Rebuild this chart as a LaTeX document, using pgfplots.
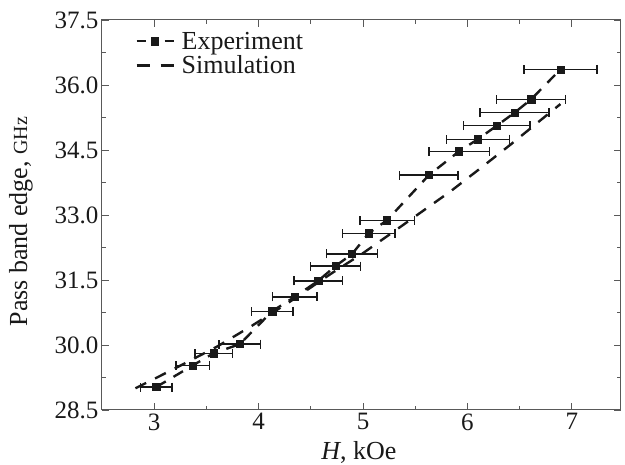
\documentclass[border=0pt]{standalone}
\usepackage{fontspec}
\setmainfont{Liberation Serif}
\usepackage{pgfplots}
\pgfplotsset{compat=1.18}
\pgfplotstableread{
x      y      e
3.02   29.03  0.15
3.37   29.53  0.16
3.57   29.81  0.18
3.82   30.02  0.20
4.13   30.78  0.20
4.345  31.11  0.215
4.57   31.48  0.23
4.735  31.82  0.24
4.895  32.10  0.245
5.055  32.58  0.25
5.23   32.88  0.26
5.63   33.92  0.28
5.92   34.47  0.29
6.10   34.75  0.30
6.28   35.06  0.32
6.45   35.36  0.33
6.61   35.67  0.33
6.89   36.36  0.35
}\expdata
\begin{document}
\begin{tikzpicture}
\begin{axis}[
  scale only axis, width=519pt, height=390pt,
  xmin=2.5, xmax=7.47, ymin=28.5, ymax=37.5,
  xtick={3,4,5,6,7}, ytick={28.5,30,31.5,33,34.5,36,37.5},
  minor x tick num=1, minor y tick num=1,
  tick align=inside, major tick length=7pt, minor tick length=4pt,
  axis line style={draw=black!65, line width=1pt},
  every tick/.style={black!65, line width=0.9pt},
  /pgf/number format/assume math mode=true,
  yticklabel style={/pgf/number format/.cd, fixed, fixed zerofill, precision=1},
  ticklabel style={font=\fontsize{25}{25}\selectfont, text=black!90},
  xlabel={\textit{H}, kOe},
  ylabel={Pass band edge, {\fontsize{20}{20}\selectfont GHz}},
  label style={font=\fontsize{26}{26}\selectfont, text=black!90},
  xlabel style={at={(axis description cs:0.495,-0.108)}, anchor=center},
  ylabel style={at={(axis description cs:-0.156,0.483)}, anchor=center},
  legend style={draw=none, fill=none, font=\fontsize{26}{26}\selectfont,
    at={(axis description cs:0.06,0.975)}, anchor=north west,
    inner xsep=2pt, inner ysep=0pt, row sep=1pt, column sep=5pt,
    cells={anchor=west}, text=black!90},
  legend image code/.code={\draw[mark repeat=2,mark phase=2] plot coordinates {(0cm,0cm) (0.65cm,0cm) (1.3cm,0cm)};},
]
\addplot[black!90, line width=2.4pt, dash pattern=on 11pt off 9pt,
  mark=square*, mark size=3.6pt, mark options={solid, line width=0.5pt},
  legend image post style={dash pattern=on 9pt off 19pt},
  error bars/.cd, x dir=both, x explicit, error mark=|,
  error bar style={solid, line width=1.3pt},
  error mark options={solid, line width=1.3pt, mark size=4.5pt}]
  table[x=x, y=y, x error=e] {\expdata};
\addlegendentry{Experiment}
\addplot[black!90, line width=2.4pt, dash pattern=on 12pt off 10pt,
  legend image post style={dash pattern=on 13pt off 11pt}] coordinates {
(2.82,29.0) (3.2,29.46) (3.6,29.96) (3.92,30.42) (4.3,31.0) (4.69,31.64)
(5.0,32.12) (5.36,32.73) (5.84,33.55) (6.125,34.08) (6.41,34.62) (6.89,35.56)};
\addlegendentry{Simulation}
\end{axis}
\pgfresetboundingbox
\path ([shift={(-102pt,-55pt)}]current axis.south west) rectangle ([shift={(4pt,20pt)}]current axis.north east);
\end{tikzpicture}
\end{document}
